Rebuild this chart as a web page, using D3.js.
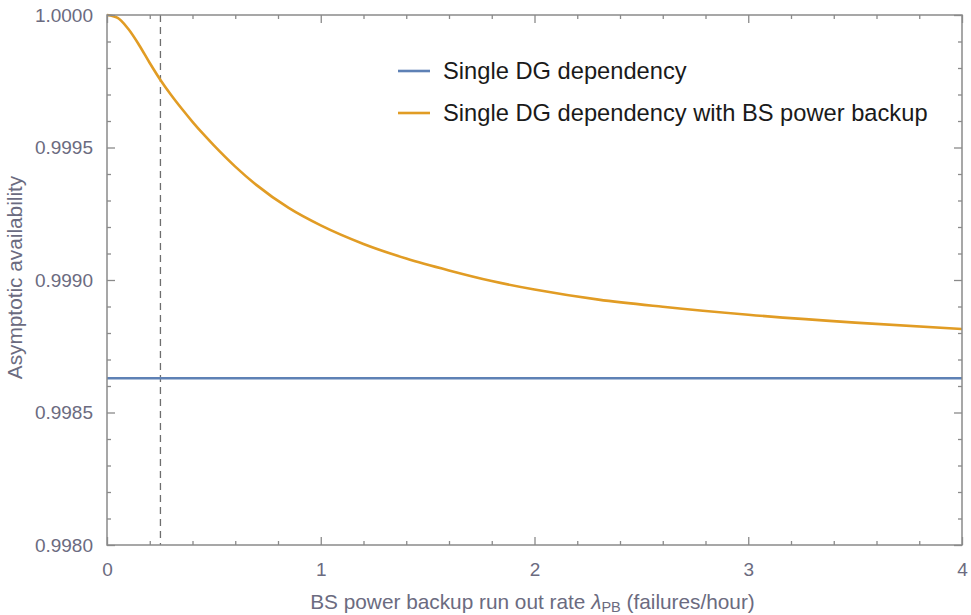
<!DOCTYPE html>
<html>
<head>
<meta charset="utf-8">
<script src="https://cdn.jsdelivr.net/npm/d3@7"></script>
<style>
  html, body { margin: 0; padding: 0; background: #fff; }
  svg { display: block; }
</style>
</head>
<body>
<svg id="chart" width="971" height="615"></svg>
<script>
// ---- data ----
const seriesNames = ["Single DG dependency", "Single DG dependency with BS power backup"];
const seriesColors = ["#5e81b5", "#e19c24"];
const lambdaPB = [0, 0.05, 0.1, 0.15, 0.2, 0.25, 0.3, 0.35, 0.4, 0.45, 0.5, 0.6, 0.7, 0.85, 1.0, 1.2, 1.4, 1.6, 1.8, 2.0, 2.3, 2.6, 3.0, 3.5, 4.0];
const availBackup = [1.0, 0.999989, 0.999947, 0.999887, 0.999819, 0.999755, 0.999698, 0.999646, 0.999597, 0.999551, 0.999508, 0.999428, 0.999358, 0.999272, 0.999206, 0.999136, 0.999081, 0.999036, 0.998996, 0.998964, 0.998926, 0.998899, 0.998869, 0.998839, 0.998815];
const availSingle = 0.998629;
const markerX = 0.25;
const xTicks = [0, 1, 2, 3, 4];
const yTicks = [0.998, 0.9985, 0.999, 0.9995, 1.0];

// ---- layout ----
const svg = d3.select("#chart");
const L = 107, R = 962, T = 15, B = 545;
const x = d3.scaleLinear().domain([0, 4]).range([L, R]);
const y = d3.scaleLinear().domain([0.998, 1.0]).range([B, T]);
const frameColor = "#8a8a8a";
const tickTextColor = "#6b6b80";
const font = "Liberation Sans, Arial, sans-serif";

// minor ticks
const xMinor = d3.range(0, 4.0001, 0.2).filter(v => !xTicks.some(t => Math.abs(t - v) < 1e-9));
const yMinor = d3.range(0.998, 1.00001, 0.0001).filter(v => !yTicks.some(t => Math.abs(t - v) < 1e-9));

const g = svg.append("g");

svg.append("clipPath").attr("id", "clip").append("rect")
  .attr("x", L).attr("y", T - 2).attr("width", R - L).attr("height", B - T + 4);

const plot = g.append("g").attr("clip-path", "url(#clip)");

// dashed marker
plot.append("line")
  .attr("x1", x(markerX)).attr("x2", x(markerX))
  .attr("y1", y(1.0)).attr("y2", y(0.998))
  .attr("stroke", "#6e6e6e").attr("stroke-width", 1.3)
  .attr("stroke-dasharray", "7,5");

// single DG line
plot.append("line")
  .attr("x1", x(0)).attr("x2", x(4))
  .attr("y1", y(availSingle)).attr("y2", y(availSingle))
  .attr("stroke", seriesColors[0]).attr("stroke-width", 2.4);

// backup curve
const pts = lambdaPB.map((v, i) => [v, availBackup[i]]);
plot.append("path")
  .datum(pts)
  .attr("fill", "none")
  .attr("stroke", seriesColors[1])
  .attr("stroke-width", 2.6)
  .attr("d", d3.line().x(d => x(d[0])).y(d => y(d[1])).curve(d3.curveMonotoneX));

// frame
g.append("rect")
  .attr("x", L).attr("y", T).attr("width", R - L).attr("height", B - T)
  .attr("fill", "none").attr("stroke", frameColor).attr("stroke-width", 1.5);

function styleAxis(sel) {
  sel.select(".domain").remove();
  sel.selectAll(".tick line").attr("stroke", frameColor).attr("stroke-width", 1.3);
  sel.selectAll("text").attr("fill", tickTextColor).attr("font-family", font).attr("font-size", 19);
}

// bottom
g.append("g").attr("transform", `translate(0,${B})`)
  .call(d3.axisBottom(x).tickValues(xTicks).tickFormat(d3.format("d")).tickSizeInner(-8).tickPadding(18))
  .call(styleAxis);
g.append("g").attr("transform", `translate(0,${B})`)
  .call(d3.axisBottom(x).tickValues(xMinor).tickFormat("").tickSizeInner(-4))
  .call(styleAxis);
// top
g.append("g").attr("transform", `translate(0,${T})`)
  .call(d3.axisTop(x).tickValues(xTicks).tickFormat("").tickSizeInner(-8))
  .call(styleAxis);
g.append("g").attr("transform", `translate(0,${T})`)
  .call(d3.axisTop(x).tickValues(xMinor).tickFormat("").tickSizeInner(-4))
  .call(styleAxis);
// left
g.append("g").attr("transform", `translate(${L},0)`)
  .call(d3.axisLeft(y).tickValues(yTicks).tickFormat(d3.format(".4f")).tickSizeInner(-8).tickPadding(14))
  .call(styleAxis);
g.append("g").attr("transform", `translate(${L},0)`)
  .call(d3.axisLeft(y).tickValues(yMinor).tickFormat("").tickSizeInner(-4))
  .call(styleAxis);
// right
g.append("g").attr("transform", `translate(${R},0)`)
  .call(d3.axisRight(y).tickValues(yTicks).tickFormat("").tickSizeInner(-8))
  .call(styleAxis);
g.append("g").attr("transform", `translate(${R},0)`)
  .call(d3.axisRight(y).tickValues(yMinor).tickFormat("").tickSizeInner(-4))
  .call(styleAxis);

// x label
const xl = svg.append("text")
  .attr("x", (308 + 757) / 2).attr("y", 609)
  .attr("text-anchor", "middle")
  .attr("font-family", font).attr("font-size", 20.8)
  .attr("fill", tickTextColor);
xl.append("tspan").text("BS power backup run out rate ");
xl.append("tspan").attr("font-style", "italic").text("λ");
xl.append("tspan").attr("font-size", 14.5).attr("dy", 3).text("PB");
xl.append("tspan").attr("dy", -3).text(" (failures/hour)");

// y label
svg.append("text")
  .attr("transform", `translate(22,${(178 + 377) / 2}) rotate(-90)`)
  .attr("text-anchor", "middle")
  .attr("font-family", font).attr("font-size", 20.8)
  .attr("fill", tickTextColor)
  .text("Asymptotic availability");

// legend
const legendY = [71, 113];
seriesNames.forEach((name, i) => {
  svg.append("line")
    .attr("x1", 398).attr("x2", 430)
    .attr("y1", legendY[i]).attr("y2", legendY[i])
    .attr("stroke", seriesColors[i]).attr("stroke-width", 2.6);
  svg.append("text")
    .attr("x", 443).attr("y", legendY[i]).attr("dy", "0.35em")
    .attr("font-family", font).attr("font-size", 23.7)
    .attr("fill", "#1a1a1a")
    .text(name);
});
</script>
</body>
</html>
